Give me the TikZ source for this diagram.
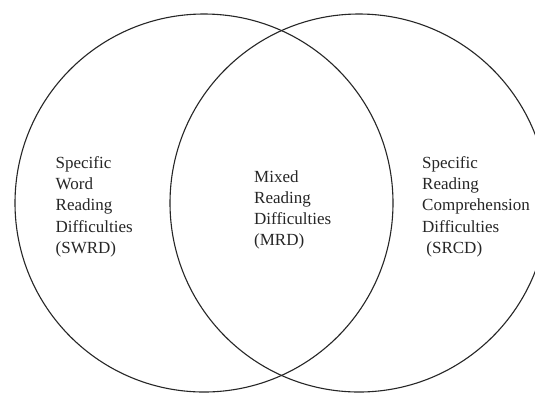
\documentclass[tikz,border=0pt]{standalone}
\usepackage{fontspec}
\setmainfont{Liberation Serif}
\begin{document}
\begin{tikzpicture}[x=1pt,y=-1pt,
  setcircle/.style={circle,draw=black!85,line width=1.1pt,minimum size=378pt,inner sep=0pt},
  label/.style={anchor=north west,inner sep=0pt,align=left,text=black!85,font=\fontsize{17}{21.3}\selectfont}]
\useasboundingbox (0,0) rectangle (535,392);
\clip (0,0) rectangle (535,392);
\fill[white] (0,0) rectangle (535,392);
\node[setcircle] (swrdset) at (204,203) {};
\node[setcircle] (srcdset) at (359,203) {};
\node[label] (swrd) at (55.5,156) {Specific\\Word\\Reading\\Difficulties\\(SWRD)};
\node[label] (mrd) at (254,170) {Mixed\\Reading\\Difficulties\\(MRD)};
\node[label] (srcd) at (422,156) {Specific\\Reading\\Comprehension\\Difficulties\\\ (SRCD)};
\end{tikzpicture}
\end{document}
